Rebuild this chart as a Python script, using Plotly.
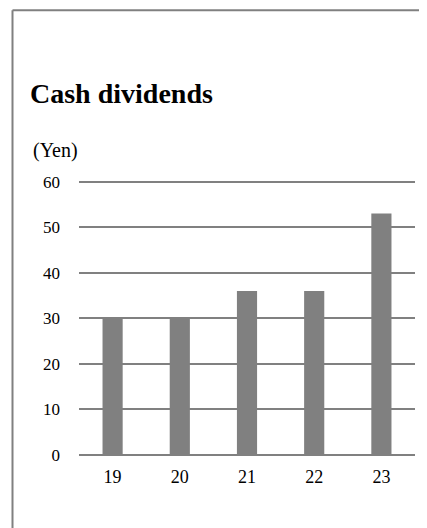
import plotly.graph_objects as go

categories = ["19", "20", "21", "22", "23"]
dividends = [30, 30, 36, 36, 53]
y_ticks = [0, 10, 20, 30, 40, 50, 60]

# page has an 8px body margin; work in reference-page coordinates
OFF = 8
YMAX = 61
W, H = 427 - OFF, 528 - OFF
PL, PR, PB = 79, 415, 455
PT = PB - YMAX * (455 - 182) / 60  # so that 60 sits at page y=182
L, R, T, B = PL - OFF, W - (PR - OFF), PT - OFF, H - (PB - OFF)
pw = W - L - R
ph = H - T - B

def px(x):
    return (x - OFF - L) / pw

def py(y):
    return (H - B - (y - OFF)) / ph

fig = go.Figure(
    go.Bar(
        x=categories,
        y=dividends,
        marker=dict(color="#808080", line=dict(width=0)),
        width=0.3,
    )
)

font = "Liberation Serif, Times New Roman, serif"

fig.update_layout(
    width=W,
    height=H,
    margin=dict(l=L, r=R, t=T, b=B),
    paper_bgcolor="white",
    plot_bgcolor="white",
    showlegend=False,
    font=dict(family=font, color="black", size=17),
    xaxis=dict(
        type="category",
        showgrid=False,
        showline=False,
        ticks="",
        tickfont=dict(size=18),
        ticklabelstandoff=9,
    ),
    yaxis=dict(
        range=[0, YMAX],
        tickvals=y_ticks,
        showgrid=True,
        gridcolor="#808080",
        gridwidth=1.5,
        zeroline=True,
        zerolinecolor="#808080",
        zerolinewidth=2,
        showline=False,
        ticks="",
        tickfont=dict(size=17),
        ticklabelstandoff=18,
    ),
    shapes=[
        dict(type="line", xref="paper", yref="paper",
             x0=px(12.5), x1=px(430), y0=py(11), y1=py(11),
             line=dict(color="#808080", width=2)),
        dict(type="line", xref="paper", yref="paper",
             x0=px(12.5), x1=px(12.5), y0=py(11), y1=py(530),
             line=dict(color="#808080", width=2)),
    ],
    annotations=[
        dict(text="<b>Cash dividends</b>", xref="paper", yref="paper",
             x=px(28), y=py(94), xanchor="left", yanchor="middle",
             showarrow=False, font=dict(size=28, family=font)),
        dict(text="(Yen)", xref="paper", yref="paper",
             x=px(31), y=py(151), xanchor="left", yanchor="middle",
             showarrow=False, font=dict(size=20, family=font)),
    ],
)

fig.write_html("out.html")
